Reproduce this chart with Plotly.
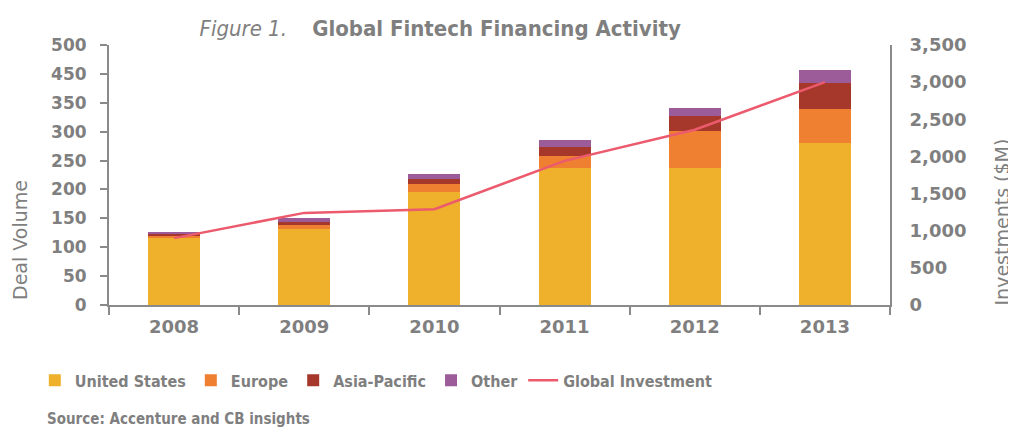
import plotly.graph_objects as go

years = ["2008", "2009", "2010", "2011", "2012", "2013"]
united_states = [116, 131, 195, 237, 237, 280]
europe = [3, 7, 15, 21, 64, 59]
asia_pacific = [5, 6, 8, 15, 26, 46]
other = [2, 6, 8, 13, 14, 22]
global_investment = [900, 1240, 1290, 1940, 2360, 3000]

# left axis labels as printed (the source skips 400)
deal_tickvals = [0, 50, 100, 150, 200, 250, 300, 350, 400, 450]
deal_ticktext = ["0", "50", "100", "150", "200", "250", "300", "350", "450", "500"]
inv_tickvals = [0, 500, 1000, 1500, 2000, 2500, 3000, 3500]

GRAY = "#7f7f7f"
AXIS = "#8a8a8a"
NARROW = "Liberation Sans Narrow, DejaVu Sans Condensed, Arial Narrow, sans-serif"
TICKFONT = "DejaVu Sans, sans-serif"

fig = go.Figure()
for name, vals, col in [("United States", united_states, "#EFB12B"),
                        ("Europe", europe, "#EF7F31"),
                        ("Asia-Pacific", asia_pacific, "#A5382A"),
                        ("Other", other, "#9B5C99")]:
    fig.add_trace(go.Bar(x=years, y=vals, name=name, marker=dict(color=col, line=dict(width=0))))

fig.add_trace(go.Scatter(x=years, y=global_investment, name="Global Investment", yaxis="y2",
                         mode="lines", line=dict(color="#EC5A6E", width=2.5)))

# the page body has an 8px margin, so the figure is 8px smaller than the window
fig.update_layout(
    width=1008, height=423,
    margin=dict(l=101, r=126, t=37, b=126),
    paper_bgcolor="white", plot_bgcolor="white",
    barmode="stack", bargap=0.6,
    showlegend=True,
    title=dict(text="<i>Figure 1.</i>&nbsp;&nbsp;&nbsp;&nbsp;<b>Global Fintech Financing Activity</b>",
               x=0.19, xanchor="left", y=0.953, yanchor="middle",
               font=dict(family=NARROW, size=22, color=GRAY)),
    legend=dict(orientation="h", x=-0.095, xanchor="left", y=-0.29, yanchor="middle",
                traceorder="normal", font=dict(family=NARROW, size=16, color=GRAY, weight="bold"),
                itemwidth=30, bgcolor="rgba(0,0,0,0)"),
    xaxis=dict(range=[-0.5, 5.5], showline=True, linecolor=AXIS, linewidth=2,
               ticks="outside", tickson="boundaries", ticklen=8, tickwidth=2, tickcolor=AXIS,
               tickfont=dict(family=TICKFONT, size=18, color=GRAY, weight="bold"),
               ticklabelstandoff=4, showgrid=False, zeroline=False),
    yaxis=dict(range=[0, 450], tickvals=deal_tickvals, ticktext=deal_ticktext,
               showline=True, linecolor=AXIS, linewidth=2,
               ticks="outside", ticklen=7, tickwidth=2, tickcolor=AXIS,
               tickfont=dict(family=TICKFONT, size=17, color=GRAY, weight="bold"),
               ticklabelstandoff=10, showgrid=False, zeroline=False),
    yaxis2=dict(range=[0, 3500], tickvals=inv_tickvals, tickformat=",d",
                overlaying="y", side="right", showline=True, linecolor=AXIS, linewidth=2,
                ticks="", tickfont=dict(family=TICKFONT, size=18, color=GRAY, weight="bold"),
                ticklabelstandoff=14, showgrid=False, zeroline=False),
    annotations=[
        dict(text="Deal Volume", textangle=-90, xref="paper", yref="paper",
             x=-0.114, y=0.25, showarrow=False, xanchor="center", yanchor="middle",
             font=dict(family=TICKFONT, size=19, color=GRAY)),
        dict(text="Investments ($M)", textangle=-90, xref="paper", yref="paper",
             x=1.143, y=0.32, showarrow=False, xanchor="center", yanchor="middle",
             font=dict(family=TICKFONT, size=19, color=GRAY)),
        dict(text="<b>Source: Accenture and CB insights</b>", xref="paper", yref="paper",
             x=-0.082, y=-0.44, showarrow=False, xanchor="left", yanchor="middle",
             font=dict(family=NARROW, size=15, color=GRAY)),
    ],
)

fig.write_html("out.html")
